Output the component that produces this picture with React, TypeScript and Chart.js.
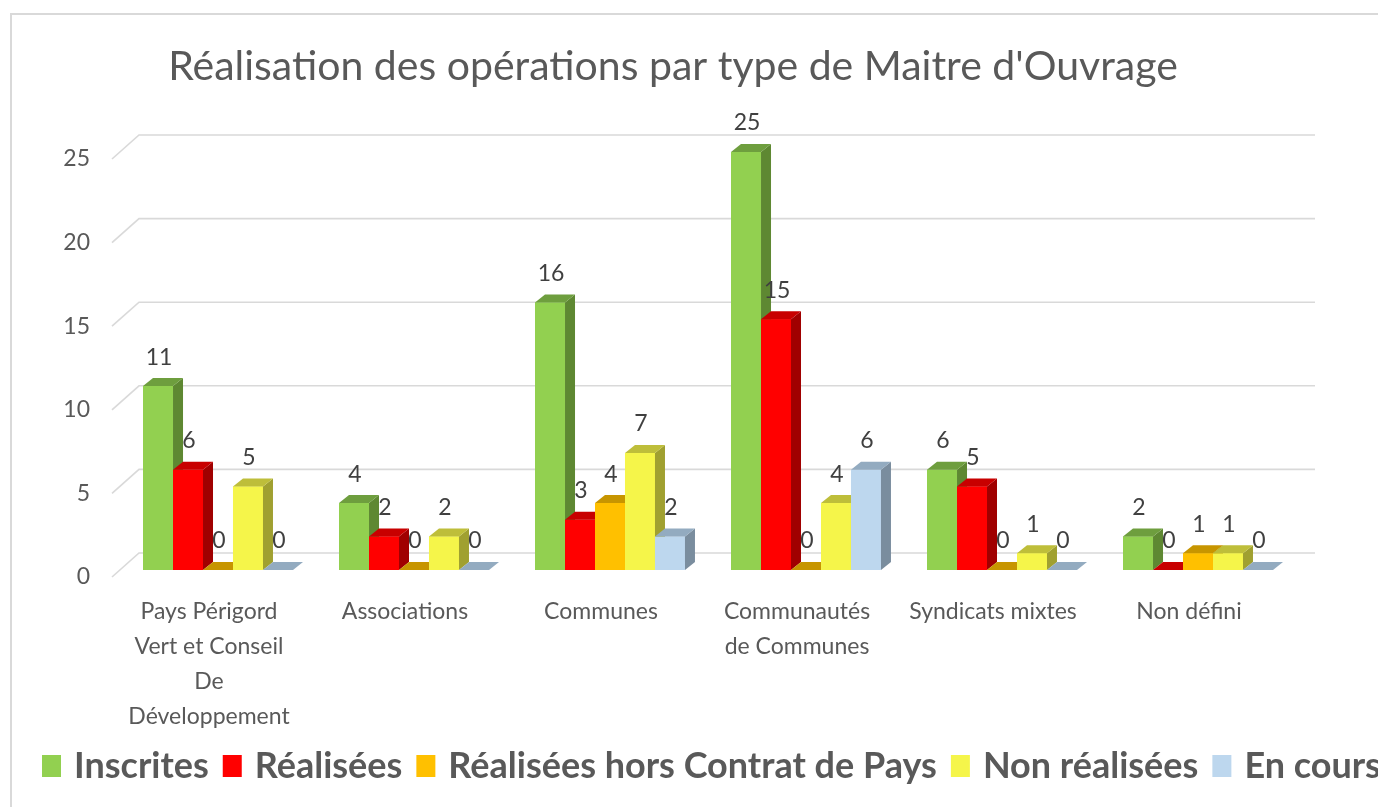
import React, { useEffect, useRef } from "react";
import { Chart, registerables } from "chart.js";

Chart.register(...registerables);

const chartTitle = "Réalisation des opérations par type de Maitre d'Ouvrage";

const categories: (string | string[])[] = [
  ["Pays Périgord", "Vert et Conseil", "De", "Développement"],
  "Associations",
  "Communes",
  ["Communautés", "de Communes"],
  "Syndicats mixtes",
  "Non défini",
];

const seriesNames = [
  "Inscrites",
  "Réalisées",
  "Réalisées hors Contrat de Pays",
  "Non réalisées",
  "En cours",
];

const inscrites = [11, 4, 16, 25, 6, 2];
const realisees = [6, 2, 3, 15, 5, 0];
const horsContrat = [0, 0, 4, 0, 0, 1];
const nonRealisees = [5, 2, 7, 4, 1, 1];
const enCours = [0, 0, 2, 6, 0, 0];

const yMin = 0;
const yMax = 25;
const yStep = 5;

const frontColors = ["#92d050", "#ff0000", "#ffc000", "#f5f54a", "#bdd7ee"];
const topColors = ["#6e9e3e", "#c80000", "#c79500", "#bebe3a", "#93abc0"];
const sideColors = ["#5e8832", "#a00000", "#a87e00", "#a0a030", "#7a8d9e"];

const DX = 10;
const DY = 8;
const FONT = "Lato";

const framePlugin = {
  id: "frame",
  beforeDraw(chart: any) {
    const ctx = chart.ctx;
    ctx.save();
    ctx.fillStyle = "#ffffff";
    ctx.fillRect(0, 0, chart.width, chart.height);
    ctx.strokeStyle = "#d9d9d9";
    ctx.lineWidth = 2;
    ctx.beginPath();
    ctx.moveTo(11, chart.height);
    ctx.lineTo(11, 14);
    ctx.lineTo(chart.width, 14);
    ctx.stroke();
    ctx.restore();
  },
};

const gridPlugin = {
  id: "grid3d",
  beforeDatasetsDraw(chart: any) {
    const ctx = chart.ctx;
    const ys = chart.scales.y;
    const xs = chart.scales.x;
    ctx.save();
    ctx.strokeStyle = "#d9d9d9";
    ctx.lineWidth = 1.6;
    ys.ticks.forEach((t: any) => {
      const py = ys.getPixelForValue(t.value);
      ctx.beginPath();
      ctx.moveTo(xs.left - 8, py + 7);
      ctx.lineTo(xs.left + 19, py - 17);
      ctx.lineTo(xs.right + 19, py - 17);
      ctx.stroke();
    });
    ctx.restore();
  },
};

const barPlugin = {
  id: "bar3d",
  afterDatasetsDraw(chart: any) {
    const ctx = chart.ctx;
    const n = chart.data.labels.length;
    const dsCount = chart.data.datasets.length;
    ctx.save();
    for (let j = 0; j < n; j++) {
      for (let i = 0; i < dsCount; i++) {
        const meta = chart.getDatasetMeta(i);
        const el = meta.data[j];
        if (!el) continue;
        const { x, y, base, width } = el.getProps(["x", "y", "base", "width"], true);
        const l = x - width / 2;
        const r = x + width / 2;
        el.draw(ctx);
        ctx.fillStyle = sideColors[i];
        ctx.beginPath();
        ctx.moveTo(r, y);
        ctx.lineTo(r + DX, y - DY);
        ctx.lineTo(r + DX, base - DY);
        ctx.lineTo(r, base);
        ctx.closePath();
        ctx.fill();
        ctx.fillStyle = topColors[i];
        ctx.beginPath();
        ctx.moveTo(l, y);
        ctx.lineTo(l + DX, y - DY);
        ctx.lineTo(r + DX, y - DY);
        ctx.lineTo(r, y);
        ctx.closePath();
        ctx.fill();
      }
    }
    // data labels
    ctx.font = `23px ${FONT}`;
    ctx.fillStyle = "#404040";
    ctx.textAlign = "center";
    ctx.textBaseline = "middle";
    for (let i = 0; i < dsCount; i++) {
      const meta = chart.getDatasetMeta(i);
      const data = chart.data.datasets[i].data;
      meta.data.forEach((el: any, j: number) => {
        const { x, y } = el.getProps(["x", "y"], true);
        ctx.fillText(String(data[j]), x + 1, y - 29);
      });
    }
    ctx.restore();
  },
};

const titleLegendPlugin = {
  id: "titleLegend",
  afterDraw(chart: any) {
    const ctx = chart.ctx;
    ctx.save();
    ctx.fillStyle = "#595959";
    ctx.font = `41px ${FONT}`;
    ctx.textAlign = "center";
    ctx.textBaseline = "alphabetic";
    ctx.fillText(chartTitle, 673, 80);

    ctx.font = `bold 36px ${FONT}`;
    ctx.textAlign = "left";
    let x = 42;
    chart.data.datasets.forEach((ds: any, i: number) => {
      ctx.fillStyle = frontColors[i];
      ctx.fillRect(x, 755, 19, 22);
      x += 19 + 13;
      ctx.fillStyle = "#595959";
      ctx.fillText(ds.label, x, 778);
      x += ctx.measureText(ds.label).width + 14;
    });
    ctx.restore();
  },
};

export default function App() {
  const ref = useRef<HTMLCanvasElement>(null);
  useEffect(() => {
    const canvas = ref.current;
    if (!canvas) return;
    const series = [inscrites, realisees, horsContrat, nonRealisees, enCours];
    const chart = new Chart(canvas, {
      type: "bar",
      data: {
        labels: categories,
        datasets: series.map((d, i) => ({
          label: seriesNames[i],
          data: d,
          backgroundColor: frontColors[i],
          borderWidth: 0,
          categoryPercentage: 0.765,
          barPercentage: 1,
        })),
      },
      options: {
        animation: false,
        responsive: true,
        maintainAspectRatio: false,
        layout: { padding: { top: 152, left: 0, right: 82, bottom: 67 } },
        plugins: {
          legend: { display: false },
          title: { display: false },
          tooltip: { enabled: false },
        },
        scales: {
          x: {
            grid: { display: false, drawTicks: false },
            border: { display: false },
            ticks: {
              color: "#595959",
              font: { family: FONT, size: 23, lineHeight: 1.52 },
              padding: 24,
              labelOffset: -9,
              maxRotation: 0,
              autoSkip: false,
            },
            afterFit: (scale: any) => {
              scale.height = 170;
            },
          },
          y: {
            min: yMin,
            max: yMax,
            grid: { display: false, drawTicks: false },
            border: { display: false },
            ticks: {
              stepSize: yStep,
              color: "#595959",
              font: { family: FONT, size: 23 },
              padding: 30,
              labelOffset: 7,
            },
            afterFit: (scale: any) => {
              scale.width = 120;
            },
          },
        },
      },
      plugins: [framePlugin, gridPlugin, barPlugin, titleLegendPlugin],
    });
    return () => chart.destroy();
  }, []);
  return (
    <div
      style={{
        position: "fixed",
        left: 0,
        top: 0,
        width: 1378,
        height: 807,
        background: "#ffffff",
      }}
    >
      <canvas ref={ref} />
    </div>
  );
}
